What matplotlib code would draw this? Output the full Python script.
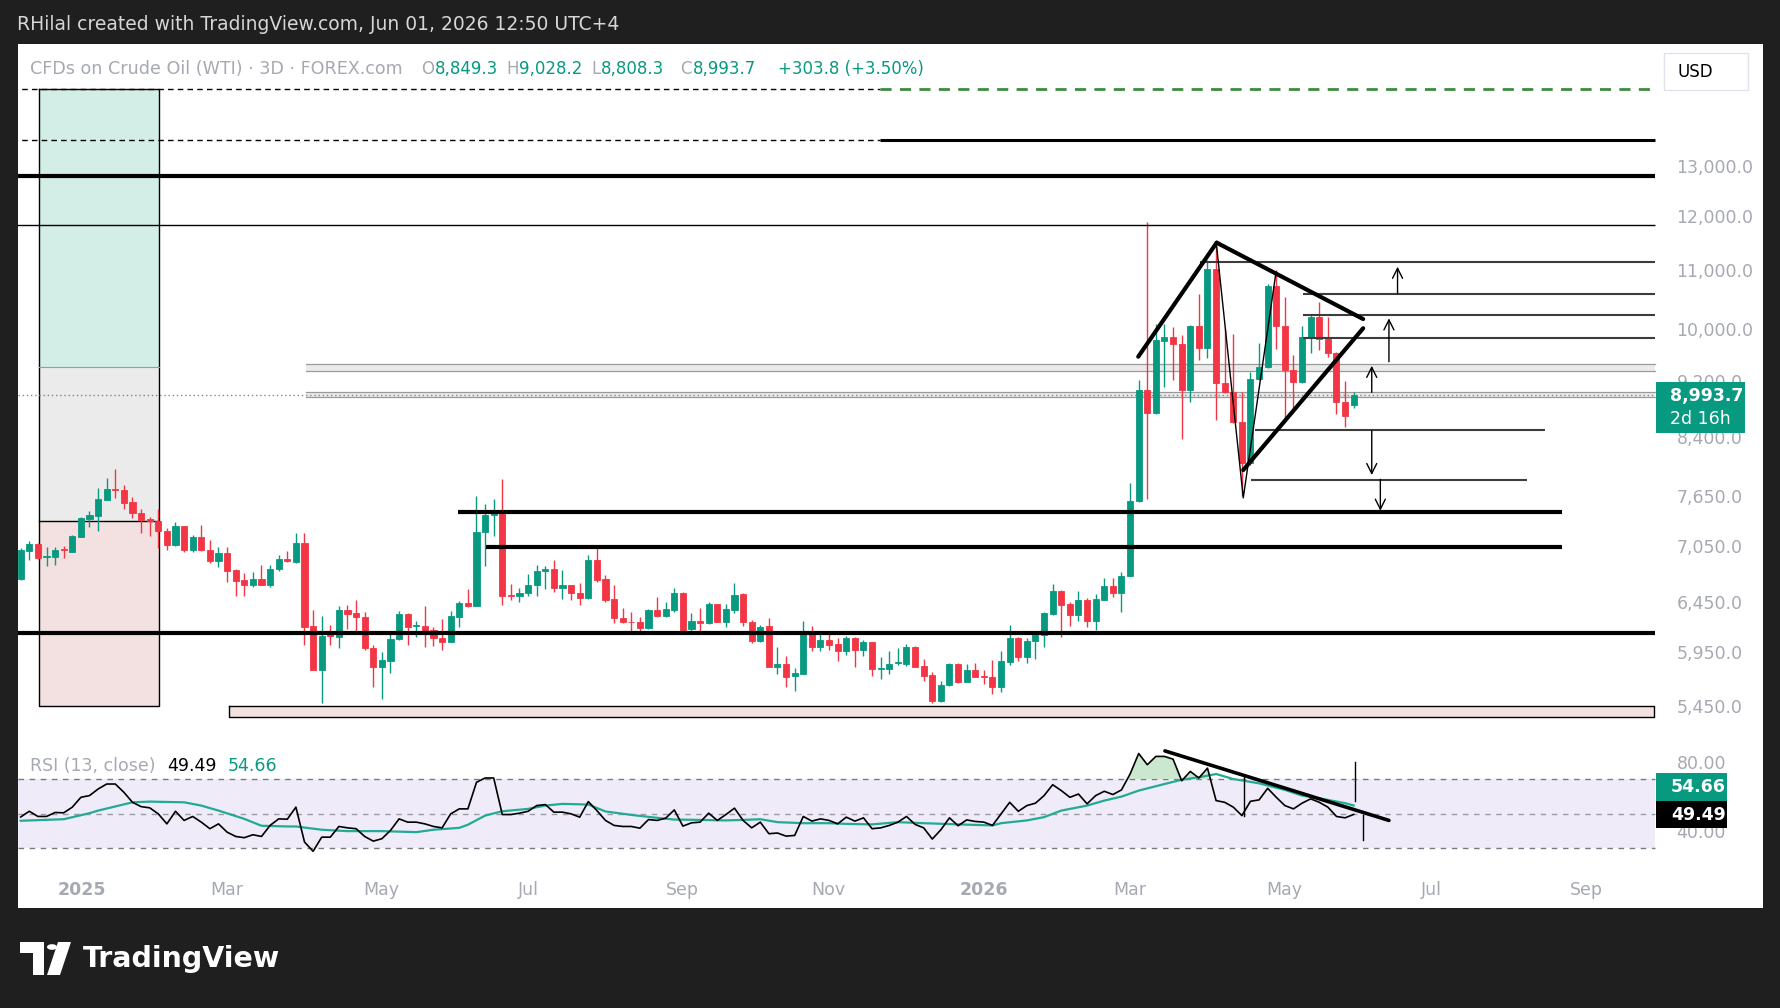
import matplotlib
matplotlib.use("Agg")
import matplotlib.pyplot as plt
import numpy as np
from matplotlib.patches import Rectangle, Circle, Polygon
from matplotlib.ticker import NullLocator, NullFormatter

# ---- 3D candles (one row per bar)
opens = [6685, 6997, 7077, 6935, 6935, 7015, 6990, 7160, 7365, 7408,
         7595, 7730, 7718, 7570, 7437, 7370, 7348, 7230, 7060, 7284,
         7008, 7153, 7008, 6888, 6970, 6786, 6678, 6628, 6685, 6628,
         6800, 6910, 6877, 7088, 6200, 5782, 6120, 6092, 6364, 6330,
         6290, 5983, 5803, 5865, 6070, 6324, 6200, 6206, 6160, 6080,
         6048, 6296, 6433, 6408, 7218, 7415, 7430, 6520, 6510, 6535,
         6622, 6772, 6800, 6590, 6625, 6535, 6485, 6896, 6690, 6475,
         6285, 6245, 6240, 6180, 6364, 6300, 6364, 6545, 6170, 6250,
         6230, 6425, 6245, 6364, 6527, 6238, 6058, 6200, 5810, 5835,
         5725, 5740, 6135, 6000, 6064, 6025, 5955, 6080, 5967, 6042,
         5785, 5790, 5840, 5835, 6000, 5815, 5730, 5497, 5640, 5835,
         5670, 5779, 5725, 5712, 5620, 5855, 6080, 5905, 6056, 6112,
         6324, 6560, 6425, 6315, 6467, 6250, 6467, 6615, 6535, 6720,
         7585, 9071, 8733, 9810, 9870, 9760, 9071, 10045, 9700, 11004,
         9165, 9030, 8612, 8062, 9232, 9400, 10710, 10050, 9367, 9180,
         9870, 10195, 9840, 9625, 8890, 8849.3]
highs = [7027, 7114, 7090, 7039, 7039, 7050, 7180, 7393, 7465, 7740,
         7865, 7980, 7785, 7630, 7482, 7386, 7482, 7257, 7335, 7284,
         7180, 7296, 7122, 7039, 7039, 6793, 6750, 6760, 6840, 6845,
         6948, 6995, 7205, 7205, 6364, 6305, 6215, 6408, 6415, 6467,
         6346, 6016, 5945, 6145, 6350, 6330, 6252, 6402, 6196, 6276,
         6356, 6457, 6580, 7650, 7545, 7604, 7850, 6636, 6590, 6743,
         6845, 6830, 6896, 6790, 6630, 6650, 6953, 7045, 6732, 6625,
         6380, 6346, 6296, 6370, 6494, 6450, 6590, 6555, 6335, 6380,
         6450, 6430, 6425, 6650, 6545, 6262, 6212, 6280, 6000, 5910,
         5795, 6250, 6205, 6135, 6125, 6080, 6105, 6090, 6064, 6048,
         5897, 5955, 5985, 6025, 6010, 5878, 5760, 5680, 5848, 5848,
         5835, 5840, 5779, 5872, 5960, 6215, 6090, 6080, 6135, 6346,
         6636, 6570, 6450, 6565, 6490, 6530, 6700, 6705, 6770, 7810,
         9208, 11875, 10085, 10085, 10030, 9895, 10060, 10576, 11168, 11455,
         10005, 9920, 9030, 9330, 9770, 10757, 10990, 10530, 9590, 10045,
         10222, 10445, 10195, 9640, 9190, 9028.2]
lows = [6678, 6896, 6910, 6830, 6840, 6915, 6985, 7153, 7270, 7228,
        7595, 7615, 7482, 7373, 7205, 7165, 7027, 7008, 7050, 6990,
        6990, 7000, 6860, 6822, 6660, 6512, 6512, 6600, 6622, 6600,
        6778, 6875, 6860, 6016, 5779, 5477, 6016, 5990, 6172, 6140,
        5967, 5620, 5512, 5748, 6064, 6016, 6094, 5995, 6008, 5967,
        6040, 6190, 6395, 6400, 6830, 7167, 6415, 6467, 6450, 6512,
        6510, 6580, 6555, 6480, 6467, 6415, 6475, 6660, 6450, 6235,
        6235, 6130, 6145, 6170, 6290, 6290, 6346, 6120, 6155, 6140,
        6225, 6240, 6190, 6335, 6205, 6038, 6048, 5803, 5740, 5625,
        5590, 5740, 5960, 5960, 5967, 5865, 5918, 5803, 5912, 5723,
        5692, 5745, 5825, 5815, 5803, 5680, 5477, 5490, 5634, 5655,
        5665, 5712, 5650, 5560, 5580, 5825, 5865, 5845, 5878, 5995,
        6318, 6094, 6200, 6250, 6196, 6163, 6462, 6500, 6340, 6720,
        7570, 7604, 8725, 9110, 9215, 8375, 8890, 9509, 9545, 8634,
        9020, 8590, 7640, 8040, 9215, 9395, 9680, 8634, 8755, 9172,
        9620, 9663, 9560, 8720, 8540, 8808.3]
closes = [7008, 7077, 6922, 6945, 7008, 7008, 7167, 7373, 7418, 7603,
          7727, 7718, 7563, 7433, 7355, 7345, 7230, 7060, 7284, 7008,
          7153, 7008, 6888, 6970, 6778, 6670, 6628, 6685, 6628, 6800,
          6910, 6880, 7088, 6196, 5782, 6106, 6106, 6364, 6324, 6288,
          5983, 5803, 5872, 6070, 6324, 6196, 6210, 6150, 6080, 6048,
          6305, 6433, 6408, 7218, 7418, 7430, 6510, 6510, 6540, 6624,
          6772, 6800, 6590, 6625, 6535, 6485, 6896, 6678, 6467, 6280,
          6238, 6238, 6180, 6364, 6305, 6370, 6545, 6163, 6250, 6230,
          6425, 6245, 6370, 6520, 6238, 6058, 6196, 5810, 5835, 5718,
          5750, 6135, 6000, 6064, 6016, 5955, 6080, 5967, 6042, 5785,
          5795, 5835, 5850, 5995, 5810, 5725, 5497, 5640, 5835, 5670,
          5779, 5718, 5712, 5620, 5862, 6080, 5905, 6056, 6118, 6330,
          6560, 6420, 6315, 6467, 6250, 6475, 6615, 6540, 6720, 7585,
          9071, 8738, 9820, 9870, 9760, 9071, 10045, 9700, 11004, 9165,
          9030, 8612, 8062, 9232, 9410, 10710, 10045, 9357, 9180, 9870,
          10195, 9840, 9620, 8890, 8690, 8993.7]

# ---- RSI(13) and its moving average
rsi = [48.0, 51.3, 48.3, 48.3, 50.6, 50.4, 53.7, 59.4, 60.4, 64.2,
       67.1, 67.1, 62.3, 56.5, 54.0, 53.3, 49.8, 44.0, 51.3, 46.0,
       48.3, 45.0, 41.2, 44.0, 39.2, 36.7, 36.0, 37.7, 36.7, 43.1,
       46.9, 46.7, 53.7, 33.5, 28.1, 36.3, 36.3, 42.5, 41.7, 41.2,
       36.7, 34.0, 35.4, 40.2, 46.9, 45.0, 45.0, 44.0, 42.5, 41.7,
       49.8, 52.7, 52.7, 68.1, 70.6, 70.6, 49.4, 49.4, 50.2, 51.3,
       54.6, 55.2, 50.8, 50.8, 49.8, 47.9, 56.9, 51.7, 46.0, 43.1,
       42.5, 42.5, 41.5, 46.5, 46.0, 47.3, 52.1, 42.7, 44.6, 45.0,
       50.2, 46.0, 49.4, 53.1, 46.0, 41.7, 45.0, 38.3, 38.7, 36.9,
       37.3, 48.3, 45.6, 46.9, 46.0, 44.0, 47.9, 45.6, 47.5, 41.2,
       41.7, 43.1, 45.0, 48.3, 43.7, 41.7, 35.2, 40.6, 47.5, 42.9,
       46.3, 45.4, 45.0, 43.1, 49.8, 56.5, 51.3, 54.6, 56.0, 60.4,
       66.7, 63.3, 59.4, 61.3, 55.6, 60.4, 62.9, 61.0, 63.7, 72.9,
       84.8, 78.3, 83.1, 83.1, 81.5, 69.0, 74.4, 70.6, 76.3, 57.5,
       56.5, 53.7, 48.8, 57.1, 57.9, 64.6, 59.4, 54.6, 52.7, 56.0,
       58.5, 56.5, 53.7, 48.3, 47.5, 49.49]
rsi_ma_x = [0, 5, 8, 9, 13, 15, 19, 21, 23, 26, 28, 31, 32, 35, 38, 42, 46, 48,
            51, 52, 54, 56, 59, 61, 63, 66, 68, 71, 74, 76, 79, 82, 84, 86, 88,
            91, 94, 96, 99, 102, 105, 109, 113, 114, 117, 119, 121, 124, 126,
            128, 130, 133, 135, 137, 139, 141, 144, 147, 149, 152, 154, 155]
rsi_ma = [45.8, 46.7, 50.2, 51.7, 56.5, 56.9, 56.5, 54.6, 51.7, 46.9, 42.9,
          42.5, 42.5, 40.6, 39.8, 39.8, 39.2, 40.6, 41.7, 43.5, 48.8, 51.3,
          52.7, 54.6, 55.6, 55.2, 51.2, 49.2, 47.5, 46.5, 46.3, 46.0, 46.3,
          46.7, 45.0, 44.4, 44.4, 44.0, 43.7, 45.0, 44.4, 43.7, 43.1, 44.4,
          46.0, 47.9, 51.7, 54.6, 57.5, 59.8, 63.3, 67.1, 69.6, 71.0, 72.9,
          70.0, 67.5, 63.7, 60.4, 57.9, 56.0, 54.66]

month_pos = [7.1, 24.0, 41.9, 59.0, 76.9, 93.9, 112.0, 129.0, 146.9, 164.0, 182.0]
month_lbl = ['2025', 'Mar', 'May', 'Jul', 'Sep', 'Nov', '2026', 'Mar', 'May', 'Jul', 'Sep']
price_ticks = [5450, 5950, 6450, 7050, 7650, 8400, 9200, 10000, 11000, 12000, 13000]

UP, DN = '#089981', '#f23645'
GRAY_TXT = '#a6a9b1'
W, H = 1780, 1008

fig = plt.figure(figsize=(W / 100, H / 100), dpi=100, facecolor='#1f1f1f')


def fig_rect(x0, y0, x1, y1, **kw):
    # pixel box, y measured from top
    r = Rectangle((x0 / W, 1 - y1 / H), (x1 - x0) / W, (y1 - y0) / H,
                  transform=fig.transFigure, **kw)
    fig.add_artist(r)
    return r


fig_rect(18, 44, 1763, 908, facecolor='white', edgecolor='none', zorder=-5)

ax = fig.add_axes([18 / W, 1 - 742 / H, 1639 / W, 698 / H])
ax2 = fig.add_axes([18 / W, 1 - 862 / H, 1639 / W, 118 / H])
for a in (ax, ax2):
    a.set_facecolor('none')
    for s in a.spines.values():
        s.set_visible(False)
    a.set_xlim(-0.314, 190.27)

# ---- price pane
ax.set_yscale('log')
ax.set_ylim(5147, 15810)
ax.set_xticks([])
ax.yaxis.tick_right()
ax.yaxis.set_minor_locator(NullLocator())
ax.yaxis.set_minor_formatter(NullFormatter())
ax.set_yticks(price_ticks)
ax.set_yticklabels([f'{p:,.1f}' for p in price_ticks])
ax.tick_params(axis='y', length=0, pad=14, labelsize=12.5, labelcolor=GRAY_TXT)

x = np.arange(len(closes))
o, h, l, c = map(np.array, (opens, highs, lows, closes))
col = np.where(c >= o, UP, DN)
ax.vlines(x, l, h, colors=col, lw=1, zorder=3)
ax.bar(x, np.abs(c - o), bottom=np.minimum(o, c), width=0.7, color=col,
       edgecolor=col, lw=0.6, zorder=4)

# position tool box on the left
bx0, bx1 = 2.08, 16.12
ax.fill_between([bx0, bx1], 9412, 14718, color='#d3ede7', lw=0, zorder=1)
ax.fill_between([bx0, bx1], 7343, 9412, color='#ebebeb', lw=0, zorder=1)
ax.fill_between([bx0, bx1], 5454, 7343, color='#f3e0e1', lw=0, zorder=1)
ax.plot([bx0, bx1, bx1, bx0, bx0], [14718, 14718, 5454, 5454, 14718], color='black', lw=1, zorder=2)
ax.plot([bx0, bx1], [7343, 7343], color='black', lw=1, zorder=2)
ax.plot([bx0, bx1], [9412, 9412], color='#9a9a9a', lw=0.8, zorder=2)

# grey zones and pink floor
for lo_, hi_ in [(9346, 9447), (8958, 9039)]:
    ax.fill_between([33.2, 190.0], lo_, hi_, color='#ebebeb', lw=0, zorder=1)
    ax.plot([33.2, 190.0], [lo_, lo_], color='#9a9a9a', lw=0.9, zorder=2)
    ax.plot([33.2, 190.0], [hi_, hi_], color='#9a9a9a', lw=0.9, zorder=2)
ax.fill_between([24.2, 189.9], 5361, 5456, color='#f3e0e1', lw=0, zorder=1)
ax.plot([24.2, 189.9, 189.9, 24.2, 24.2], [5456, 5456, 5361, 5361, 5456], color='black', lw=1, zorder=2)

# current price line
ax.axhline(8993.7, color='#7c8a86', lw=1, ls=(0, (1, 2)), zorder=2)

# horizontal levels
levels = [
    (14718, -1, 99.9, 'black', 1, (0, (4, 3))),
    (14718, 99.9, 190.0, '#3d8b40', 2, (0, (4, 3))),
    (13557, -1, 99.9, 'black', 1, (0, (4, 3))),
    (13557, 99.9, 190.0, 'black', 2.2, '-'),
    (12787, -1, 190.0, 'black', 3, '-'),
    (11823, -1, 190.0, 'black', 1, '-'),
    (11136, 137.1, 190.0, '#3c3c3c', 1.5, '-'),
    (10582, 149.1, 190.0, '#3c3c3c', 1.5, '-'),
    (10226, 149.1, 190.0, '#3c3c3c', 1.5, '-'),
    (9859, 149.1, 190.0, '#3c3c3c', 1.5, '-'),
    (8497, 143.5, 177.2, '#3c3c3c', 1.5, '-'),
    (7843, 143.1, 175.1, '#3c3c3c', 1.5, '-'),
    (7455, 50.9, 179.2, 'black', 3, '-'),
    (7038, 54.1, 179.2, 'black', 3, '-'),
    (6135, -1, 190.0, 'black', 3, '-'),
]
for p, x0, x1, cc, lw, ls in levels:
    ax.plot([x0, x1], [p, p], color=cc, lw=lw, ls=ls, zorder=5, solid_capstyle='butt')

# triangle
for (xa, pa), (xb, pb) in [((129.95, 9563), (139.07, 11487)),
                           ((139.07, 11487), (156.1, 10160)),
                           ((142.16, 7970), (156.1, 10010))]:
    ax.plot([xa, xb], [pa, pb], color='black', lw=3, zorder=6, solid_capstyle='round')
ax.plot([139.07, 142.16, 145.97], [11413, 7621, 10958], color='black', lw=1, zorder=6)

# target arrows
for ax_x, p0, p1 in [(160.1, 10582, 11051), (159.1, 9486, 10171), (157.1, 9030, 9424),
                     (157.1, 8488, 7906), (158.1, 7851, 7465)]:
    ax.annotate('', xy=(ax_x, p1), xytext=(ax_x, p0),
                arrowprops=dict(arrowstyle='->', color='black', lw=1, mutation_scale=18,
                                shrinkA=0, shrinkB=0), zorder=6)

# ---- RSI pane
ax2.set_ylim(21.9, 90.3)
ax2.fill_between([-0.314, 190.0], 30, 70, color='#efebf8', lw=0, zorder=0)
for lv, cc in [(70, '#787b86'), (50, '#9a9ca5'), (30, '#787b86')]:
    ax2.plot([-0.314, 190.0], [lv, lv], color=cc, lw=1, ls=(0, (4, 4)), zorder=1)
r = np.array(rsi)
ax2.fill_between(x, r, 70, where=r > 70, interpolate=True, color='#bfe3c4', alpha=0.8, lw=0, zorder=1)
ax2.plot(rsi_ma_x, rsi_ma, color='#22ab94', lw=1.6, zorder=2)
ax2.plot(x, r, color='black', lw=1.2, zorder=3)
ax2.plot([133.05, 159.1], [86.3, 46.0], color='black', lw=2.6, zorder=4, solid_capstyle='round')
for vx, v0, v1 in [(142.2, 71.0, 48.8), (155.1, 79.6, 57.5), (156.1, 49.4, 34.8)]:
    ax2.plot([vx, vx], [v0, v1], color='black', lw=1, zorder=4)

ax2.yaxis.tick_right()
ax2.set_yticks([40, 80])
ax2.set_yticklabels(['40.00', '80.00'])
ax2.tick_params(axis='y', length=0, pad=14, labelsize=12.5, labelcolor=GRAY_TXT)
ax2.set_xticks(month_pos)
ax2.set_xticklabels(month_lbl)
ax2.tick_params(axis='x', length=0, pad=14, labelsize=12.5, labelcolor=GRAY_TXT)
for t in ax2.get_xticklabels():
    if t.get_text().isdigit():
        t.set_fontweight('bold')

# ---- texts
fig.text(17 / W, 1 - 25 / H, 'RHilal created with TradingView.com, Jun 01, 2026 12:50 UTC+4',
         color='#d6d6d6', fontsize=13.5, va='center')

rend = fig.canvas.get_renderer()


def chain(x0, y, parts, size=12.5):
    xx = x0
    for s, cc in parts:
        t = fig.text(xx / W, 1 - y / H, s, color=cc, fontsize=size, va='center')
        xx += t.get_window_extent(rend).width + 1


hy = 69
chain(30, hy, [('CFDs on Crude Oil (WTI) · 3D · FOREX.com', GRAY_TXT)], size=12.6)
chain(421, hy, [('O', GRAY_TXT), ('8,849.3', UP)], size=12)
chain(506, hy, [('H', GRAY_TXT), ('9,028.2', UP)], size=12)
chain(591, hy, [('L', GRAY_TXT), ('8,808.3', UP)], size=12)
chain(680, hy, [('C', GRAY_TXT), ('8,993.7', UP)], size=12)
chain(778, hy, [('+303.8 (+3.50%)', UP)], size=12)

chain(30, 766, [('RSI (13, close)', GRAY_TXT)])
chain(167, 766, [('49.49', 'black')])
chain(228, 766, [('54.66', UP)])

# USD box
fig_rect(1664, 53, 1748, 90, facecolor='white', edgecolor='#e0e3eb', lw=1, zorder=5)
fig.text(1695 / W, 1 - 72 / H, 'USD', color='black', fontsize=12, ha='center', va='center', zorder=6)

# last price label
fig_rect(1656, 382, 1745, 433, facecolor=UP, edgecolor='none', zorder=5)
fig.text(1670 / W, 1 - 396 / H, '8,993.7', color='white', fontsize=12.5, fontweight='bold', va='center', zorder=6)
fig.text(1670 / W, 1 - 419 / H, '2d 16h', color='white', fontsize=12.5, va='center', zorder=6)

# RSI value labels
fig_rect(1656, 773, 1727, 801, facecolor=UP, edgecolor='none', zorder=5)
fig.text(1671 / W, 1 - 787 / H, '54.66', color='white', fontsize=12.5, fontweight='bold', va='center', zorder=6)
fig_rect(1656, 801, 1727, 828, facecolor='black', edgecolor='none', zorder=5)
fig.text(1671 / W, 1 - 815 / H, '49.49', color='white', fontsize=12.5, fontweight='bold', va='center', zorder=6)

# TradingView logo
logo = [Polygon([(20, 942), (44, 942), (44, 975), (33, 975), (33, 953), (20, 953)], closed=True),
        Circle((52, 947), 5),
        Polygon([(58, 942), (71, 942), (60, 975), (47, 975)], closed=True)]
for pch in logo:
    if isinstance(pch, Circle):
        cx, cy = pch.center
        pch = Circle((cx / W, 1 - cy / H), pch.radius / W)
    else:
        xy = pch.get_xy()
        pch = Polygon([(px / W, 1 - py / H) for px, py in xy], closed=True)
    pch.set_transform(fig.transFigure)
    pch.set_facecolor('white')
    pch.set_edgecolor('none')
    fig.add_artist(pch)
fig.text(83 / W, 1 - 959 / H, 'TradingView', color='white', fontsize=20.5, fontweight='bold', va='center')

fig.savefig('out.png', dpi=100, facecolor=fig.get_facecolor())
